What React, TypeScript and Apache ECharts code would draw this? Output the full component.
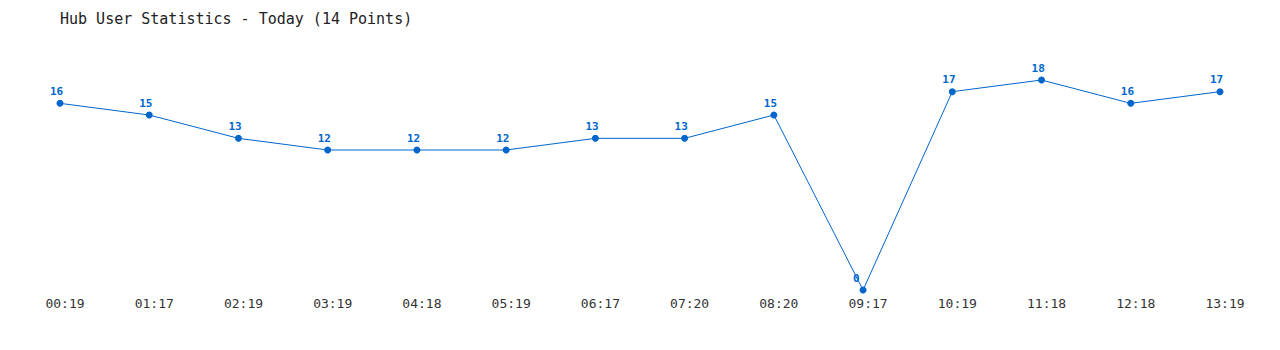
import React, { useEffect, useRef } from "react";
import * as echarts from "echarts";

const titleText = "Hub User Statistics - Today (14 Points)";
const times = ["00:19", "01:17", "02:19", "03:19", "04:18", "05:19", "06:17", "07:20", "08:20", "09:17", "10:19", "11:18", "12:18", "13:19"];
const users = [16, 15, 13, 12, 12, 12, 13, 13, 15, 0, 17, 18, 16, 17];

export default function App() {
  const ref = useRef<HTMLDivElement>(null);
  useEffect(() => {
    if (!ref.current) return;
    const chart = echarts.init(ref.current, null, { renderer: "svg" });
    const mono = "DejaVu Sans Mono";
    chart.setOption({
      animation: false,
      backgroundColor: "#ffffff",
      title: {
        text: titleText,
        left: 55,
        top: 6,
        textStyle: { fontFamily: mono, fontSize: 15, fontWeight: "normal", color: "#222222" },
      },
      grid: { left: 60, right: 60, top: 80, bottom: 60, containLabel: false },
      xAxis: {
        type: "category",
        data: times,
        boundaryGap: false,
        axisLine: { show: false },
        axisTick: { show: false },
        splitLine: { show: false },
        axisLabel: {
          fontFamily: mono,
          fontSize: 13,
          color: "#333333",
          margin: 7,
          padding: [0, 0, 0, 10],
        },
      },
      yAxis: {
        type: "value",
        min: 0,
        max: 18,
        show: false,
      },
      series: [
        {
          type: "line",
          data: users,
          symbol: "circle",
          symbolSize: 7,
          lineStyle: { color: "#0066cc", width: 1 },
          itemStyle: { color: "#0066cc" },
          label: {
            show: true,
            position: "top",
            distance: 3,
            align: "left",
            offset: [-10, 0],
            fontFamily: mono,
            fontSize: 11,
            fontWeight: "bold",
            color: "#0066cc",
          },
        },
      ],
    });
    return () => chart.dispose();
  }, []);
  return <div ref={ref} style={{ width: 1280, height: 350, position: "absolute", left: 0, top: 0 }} />;
}
